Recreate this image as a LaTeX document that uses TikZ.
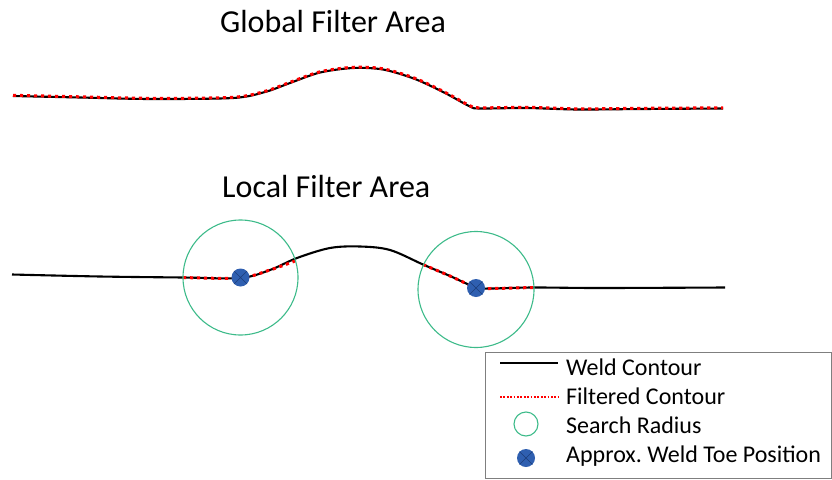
\documentclass[tikz,border=0pt]{standalone}
\usepackage{fontspec}
\setmainfont{Carlito}
\frenchspacing
\definecolor{toeblue}{HTML}{2F5FB0}
\definecolor{toedark}{HTML}{1C3C78}
\definecolor{radgreen}{HTML}{3DBB8A}
\definecolor{boxgray}{HTML}{7F7F7F}
\begin{document}
\begin{tikzpicture}[x=1pt,y=-1pt,
  contour/.style={line width=2.1pt, black},
  filtered/.style={line width=3pt, red, dash pattern=on 3.2pt off 3.8pt},
  searchcircle/.style={circle, draw=radgreen, line width=1.1pt, inner sep=0pt},
  toedot/.style={circle, fill=toeblue, inner sep=0pt, minimum size=18pt},
  titletext/.style={anchor=base west, inner sep=0pt, font=\fontsize{32}{38}\selectfont},
  legtext/.style={anchor=base west, inner sep=0pt, font=\fontsize{24}{28}\selectfont}]
\useasboundingbox (0,0) rectangle (832,479);

% titles
\node[titletext] (tglobal) at (220,32) {Global Filter Area};
\node[titletext] (tlocal) at (222,197) {Local Filter Area};

% global contour
\def\globalpts{(13,96) (80,97.5) (150,99) (233,98) (265,92) (290,83) (320,72.5) (353,68) (383,69.5) (415,79) (445,93) (470,106.5) (480,108.5) (527,108) (577,109.5) (643,109) (723,108.5)}
\draw[contour] plot[smooth, tension=0.5] coordinates {\globalpts};
\begin{scope}[yshift=0.7pt]
\draw[filtered] plot[smooth, tension=0.5] coordinates {\globalpts};
\end{scope}

% local contour
\draw[contour] plot[smooth, tension=0.55] coordinates {(12,274.5) (100,276.5) (183,277.5) (240,278) (270,270) (297,258) (330,248) (360,246.5) (390,250) (423,264.5) (450,276) (476,287.5) (490,288.5) (533,287.5) (600,288) (725,287.5)};
\draw[filtered] plot[smooth, tension=0.5] coordinates {(183,277.5) (240,278) (270,270) (295,261)};
\draw[filtered] plot[smooth, tension=0.5] coordinates {(423,264.5) (450,276) (476,287.5) (490,288.5) (533,287.5)};

% search circles
\node[searchcircle, minimum size=115pt] (c1) at (240.5,277.5) {};
\node[searchcircle, minimum size=116pt] (c2) at (476,289.5) {};

% weld toe dots
\node[toedot] (d1) at (240.5,277.5) {};
\draw[toedark, line width=0.5pt] (d1.45) -- (d1.225) (d1.135) -- (d1.315);
\node[toedot] (d2) at (476,288) {};
\draw[toedark, line width=0.5pt] (d2.45) -- (d2.225) (d2.135) -- (d2.315);

% legend
\node[draw=boxgray, line width=1pt, inner sep=0pt, minimum width=346pt, minimum height=126pt, anchor=north west] (legbox) at (485,352) {};
\coordinate (l1a) at (500,363); \coordinate (l1b) at (558,363);
\draw[line width=2.2pt] (l1a) -- (l1b);
\node[legtext] (lt1) at (566,375) {Weld Contour};
\coordinate (l2a) at (500,397); \coordinate (l2b) at (558,397);
\draw[red, line width=2pt, dash pattern=on 1.8pt off 1.6pt] (l2a) -- (l2b);
\node[legtext] (lt2) at (566,404) {Filtered Contour};
\node[searchcircle, minimum size=24pt] (lc) at (526,424) {};
\node[legtext] (lt3) at (566,433) {Search Radius};
\node[toedot] (ld) at (526,458) {};
\draw[toedark, line width=0.5pt] (ld.45) -- (ld.225) (ld.135) -- (ld.315);
\node[legtext] (lt4) at (566,462) {Approx. Weld Toe Position};
\end{tikzpicture}
\end{document}
